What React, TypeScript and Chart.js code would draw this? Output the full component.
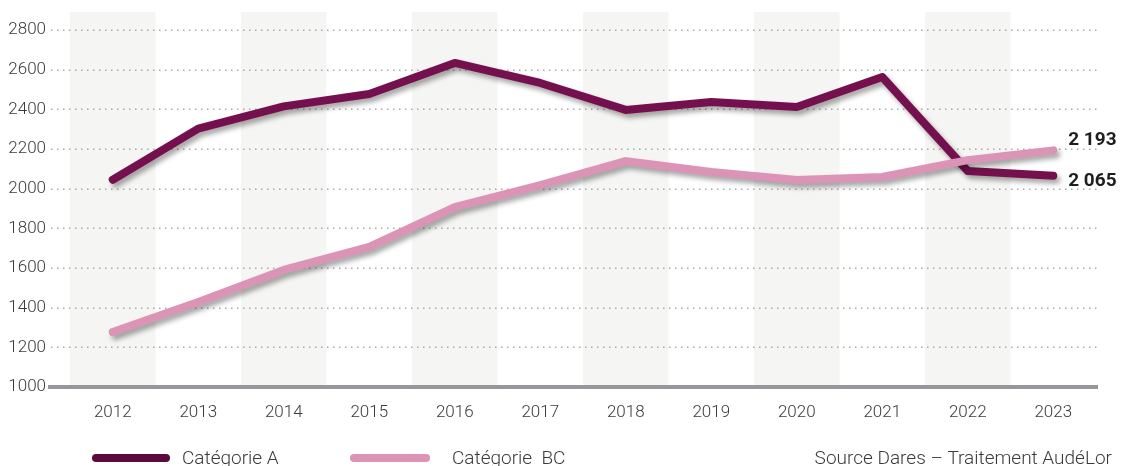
import React, { useEffect, useRef } from "react";
import { Chart, registerables } from "chart.js";

Chart.register(...registerables);

const years = ["2012", "2013", "2014", "2015", "2016", "2017", "2018", "2019", "2020", "2021", "2022", "2023"];
const categorieA = [2045, 2303, 2415, 2477, 2634, 2533, 2397, 2437, 2412, 2563, 2089, 2065];
const categorieBC = [1277, 1429, 1590, 1706, 1907, 2018, 2139, 2084, 2044, 2059, 2144, 2193];
const yTicks = [1000, 1200, 1400, 1600, 1800, 2000, 2200, 2400, 2600, 2800];
const endLabels = ["2 193", "2 065"];
const legendLabels = ["Catégorie A", "Catégorie  BC"];
const sourceText = "Source Dares – Traitement AudéLor";

const COLOR_A = "#75104f";
const COLOR_BC = "#dc94b6";
const FONT = "Roboto, 'DejaVu Sans', sans-serif";

const decorPlugin = {
  id: "decor",
  beforeDatasetsDraw(chart: any) {
    const { ctx, chartArea, scales } = chart;
    const x = scales.x;
    const y = scales.y;
    const step = x.getPixelForValue(1) - x.getPixelForValue(0);
    ctx.save();
    ctx.fillStyle = "#f5f5f3";
    for (let i = 0; i < years.length; i += 2) {
      const cx = x.getPixelForValue(i);
      ctx.fillRect(cx - step / 2, 12, step, chartArea.bottom - 12);
    }
    ctx.fillStyle = "#a9a9a9";
    for (const v of yTicks) {
      if (v === 1000) continue;
      const py = Math.round(y.getPixelForValue(v));
      for (let px = 51; px < 1098; px += 6) {
        ctx.fillRect(px, py - 0.5, 1.5, 1.5);
      }
    }
    ctx.fillStyle = "#96979b";
    ctx.fillRect(48, chartArea.bottom - 2, 1050, 4);
    ctx.restore();
  },
  beforeDatasetDraw(chart: any) {
    const ctx = chart.ctx;
    ctx.save();
    ctx.shadowColor = "rgba(0,0,0,0.35)";
    ctx.shadowBlur = 5;
    ctx.shadowOffsetX = 3;
    ctx.shadowOffsetY = 4;
  },
  afterDatasetDraw(chart: any) {
    chart.ctx.restore();
  },
  afterDraw(chart: any) {
    const { ctx, scales } = chart;
    const x = scales.x;
    const y = scales.y;
    const last = years.length - 1;
    ctx.save();
    ctx.fillStyle = "#1e1e1e";
    ctx.font = `bold 19px ${FONT}`;
    ctx.textBaseline = "middle";
    ctx.textAlign = "left";
    ctx.fillText(endLabels[0], x.getPixelForValue(last) + 15, y.getPixelForValue(categorieBC[last]) - 10);
    ctx.fillText(endLabels[1], x.getPixelForValue(last) + 15, y.getPixelForValue(categorieA[last]) + 5);

    ctx.lineCap = "round";
    ctx.lineWidth = 8;
    ctx.strokeStyle = "#5a0b3b";
    ctx.beginPath();
    ctx.moveTo(96, 458);
    ctx.lineTo(166, 458);
    ctx.stroke();
    ctx.strokeStyle = COLOR_BC;
    ctx.beginPath();
    ctx.moveTo(354, 458);
    ctx.lineTo(426, 458);
    ctx.stroke();
    ctx.fillStyle = "#3a3a3a";
    ctx.font = `300 19px ${FONT}`;
    ctx.textBaseline = "alphabetic";
    ctx.fillText(legendLabels[0], 182, 464);
    ctx.fillText(legendLabels[1], 452, 464);
    ctx.textAlign = "right";
    ctx.fillText(sourceText, 1112, 464);
    ctx.restore();
  },
};

export default function App() {
  const ref = useRef<HTMLCanvasElement>(null);
  useEffect(() => {
    document.body.style.margin = "0";
    const chart = new Chart(ref.current!, {
      type: "line",
      data: {
        labels: years,
        datasets: [
          {
            label: legendLabels[0],
            data: categorieA,
            borderColor: COLOR_A,
            borderWidth: 8,
            pointRadius: 0,
            borderCapStyle: "round",
            borderJoinStyle: "round",
            tension: 0,
            order: 1,
          },
          {
            label: legendLabels[1],
            data: categorieBC,
            borderColor: COLOR_BC,
            borderWidth: 8,
            pointRadius: 0,
            borderCapStyle: "round",
            borderJoinStyle: "round",
            tension: 0,
            order: 0,
          },
        ],
      },
      options: {
        animation: false,
        responsive: false,
        maintainAspectRatio: false,
        layout: { padding: { top: 30, right: 25, left: 0, bottom: 0 } },
        plugins: { legend: { display: false }, tooltip: { enabled: false } },
        scales: {
          x: {
            offset: true,
            grid: { display: false, drawTicks: false },
            border: { display: false },
            ticks: { color: "#3a3a3a", font: { family: FONT, size: 17, weight: "300" }, padding: 16, maxRotation: 0 },
            afterFit: (s: any) => {
              s.height = 79;
              s.paddingLeft = 0;
              s.paddingRight = 0;
            },
          },
          y: {
            min: 1000,
            max: 2800,
            grid: { display: false, drawTicks: false },
            border: { display: false },
            ticks: {
              stepSize: 200,
              color: "#3a3a3a",
              font: { family: FONT, size: 17, weight: "300" },
              padding: 24,
              callback: (v: any) => String(v),
            },
            afterFit: (s: any) => {
              s.width = 70;
              s.paddingTop = 0;
              s.paddingBottom = 0;
            },
          },
        },
      },
      plugins: [decorPlugin],
    });
    return () => chart.destroy();
  }, []);
  return <canvas ref={ref} width={1121} height={466} style={{ display: "block" }} />;
}
